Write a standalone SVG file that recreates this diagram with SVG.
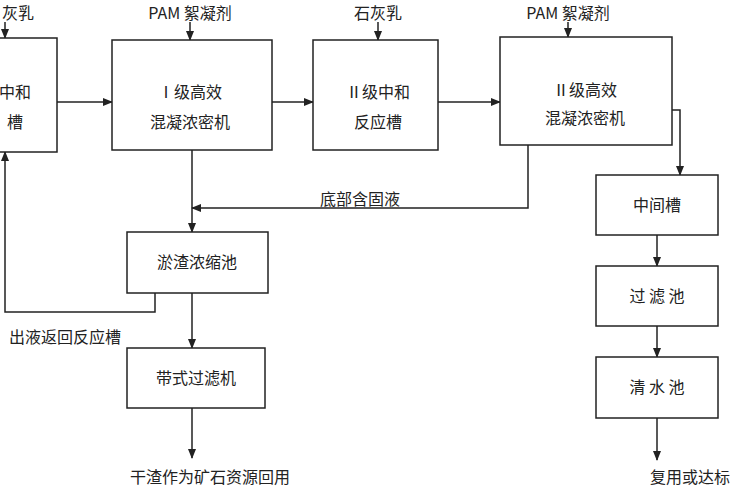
<svg xmlns="http://www.w3.org/2000/svg" width="750" height="500" viewBox="0 0 750 500">
<defs>
<marker id="a" markerWidth="10" markerHeight="8" refX="9" refY="4" orient="auto" markerUnits="userSpaceOnUse"><path d="M0,0 L10,4 L0,8 z" fill="#222"/></marker>
<style>
rect{fill:#fff;stroke:#222;stroke-width:1.5}
text{font-family:"Noto Sans CJK SC","Liberation Serif",serif;font-size:16px;fill:#222;text-anchor:middle}
.c path{fill:none;stroke:#222;stroke-width:1.5;marker-end:url(#a)}
</style>
</defs>
<rect width="750" height="500" fill="#fff" style="stroke:none"/>
<g class="c">
<path d="M5,22 V38"/>
<path d="M190,22 V40"/>
<path d="M378,22 V40"/>
<path d="M568,22 V37"/>
<path d="M57,102 H112"/>
<path d="M272,102 H313"/>
<path d="M438,102 H500"/>
<path d="M672,110 H680 V175"/>
<path d="M657,235 V266"/>
<path d="M657,326 V357"/>
<path d="M657,418 V460"/>
<path d="M192,150 V232"/>
<path d="M528,145 V208 H192"/>
<path d="M192,293 V348"/>
<path d="M192,408 V458"/>
<path d="M155,293 V312 H5 V152"/>
</g>
<g id="n0"><rect x="-20" y="38" width="77" height="114"/><text x="15" y="98">中和</text><text x="15" y="128">槽</text><text x="18" y="19">灰乳</text></g>
<g id="n1"><rect x="112" y="40" width="160" height="110"/><text x="190" y="98">Ⅰ级高效</text><text x="190" y="128">混凝浓密机</text><text x="190" y="19">PAM 絮凝剂</text></g>
<g id="n2"><rect x="313" y="40" width="125" height="110"/><text x="378" y="98">Ⅱ级中和</text><text x="378" y="128">反应槽</text><text x="378" y="19">石灰乳</text></g>
<g id="n3"><rect x="500" y="37" width="172" height="108"/><text x="585" y="96">Ⅱ级高效</text><text x="585" y="124">混凝浓密机</text><text x="568" y="19">PAM 絮凝剂</text></g>
<g id="n4"><rect x="596" y="175" width="122" height="60"/><text x="657" y="211">中间槽</text></g>
<g id="n5"><rect x="596" y="266" width="122" height="60"/><text x="657" y="302">过 滤 池</text></g>
<g id="n6"><rect x="596" y="357" width="122" height="61"/><text x="657" y="393">清 水 池</text></g>
<g id="n7"><rect x="127" y="232" width="141" height="61"/><text x="197" y="268">淤渣浓缩池</text></g>
<g id="n8"><rect x="127" y="348" width="138" height="60"/><text x="196" y="384">带式过滤机</text></g>
<text x="360" y="205">底部含固液</text>
<text x="65" y="343">出液返回反应槽</text>
<text x="210" y="483">干渣作为矿石资源回用</text>
<text x="690" y="483">复用或达标</text>
</svg>
